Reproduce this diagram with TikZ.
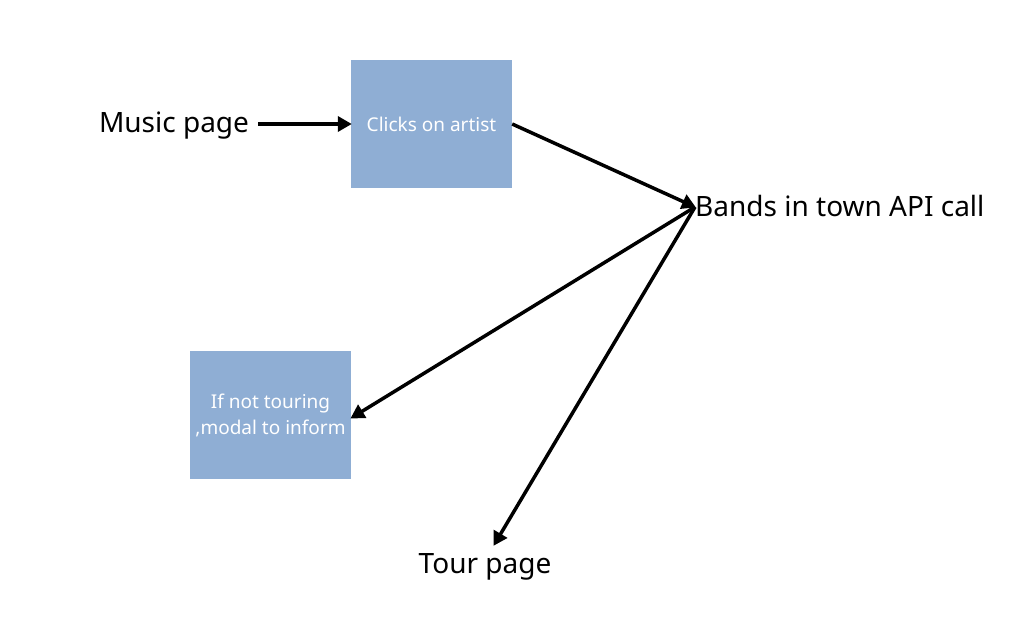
\documentclass[tikz,border=0pt]{standalone}
\usepackage{fontspec}
\setmainfont{Noto Sans}
\usetikzlibrary{arrows.meta}
\definecolor{boxblue}{HTML}{8FAED4}
\begin{document}
\begin{tikzpicture}[x=1pt,y=-1pt,
  bigtext/.style={inner sep=0pt, font=\fontsize{28}{32}\selectfont, text=black},
  bluebox/.style={fill=boxblue, draw=none, minimum width=161pt, minimum height=128pt, inner sep=0pt, text=white, font=\fontsize{19}{26}\selectfont, align=center},
  conn/.style={line width=3.5pt, -{Triangle[length=14pt,width=15pt]}, shorten >=-1pt}]
\useasboundingbox[fill=white] (0,0) rectangle (1024,639);
\node[bigtext, anchor=base] (music) at (174,133) {Music page};
\node[bluebox] (clicks) at (431.5,124) {Clicks on artist};
\node[bigtext, anchor=base west] (bands) at (695,216) {Bands in town API call};
\node[bluebox] (notour) at (270.5,415) {If not touring\\,modal to inform};
\node[bigtext, anchor=base] (tour) at (485,573) {Tour page};
\coordinate (musicend) at (258,124);
\coordinate (bandsin) at (695,207);
\coordinate (tourtop) at (494,545);
\draw[conn] (musicend) -- (clicks.west);
\draw[conn] (clicks.east) -- (bandsin);
\draw[conn] (bandsin) -- ([yshift=-3pt]notour.east);
\draw[conn] (bandsin) -- (tourtop);
\end{tikzpicture}
\end{document}
